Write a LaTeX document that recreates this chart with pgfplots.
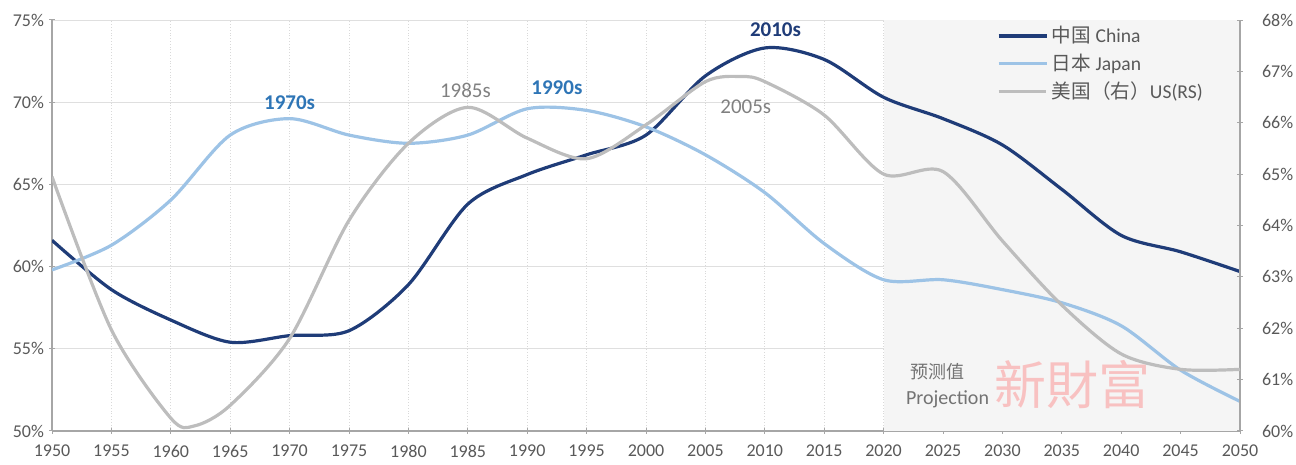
\documentclass[border=0pt]{standalone}
\usepackage{pgfplots}
\pgfplotsset{compat=1.18}
\usepackage{fontspec}
\setmainfont{Carlito}
\newfontfamily\cjk{Noto Sans CJK SC}
\definecolor{cn}{HTML}{1F3C78}
\definecolor{jp}{HTML}{9DC3E6}
\definecolor{us}{HTML}{BDBDBD}
\definecolor{lbl}{HTML}{595959}
\definecolor{ann}{HTML}{2E75B6}
\definecolor{axl}{HTML}{A6A6A6}
\begin{document}
\begin{tikzpicture}
\useasboundingbox (0,0) rectangle (648pt,232.5pt);
\pgfplotsset{
  common/.style={
    scale only axis, width=594pt, height=205.5pt,
    at={(26pt,17pt)}, anchor=south west,
    xmin=1950, xmax=2050,
    tick label style={font=\fontsize{9}{10}\selectfont, color=lbl},
    /pgf/number format/assume math mode=true,
    axis line style={color=axl, line width=0.6pt},
    major tick length=3pt, tick align=center,
    tick style={color=axl, line width=0.5pt},
  }
}
\begin{axis}[common,
  axis x line*=bottom, axis y line*=left,
  ymin=50, ymax=75, ytick={50,55,...,75},
  yticklabel={\pgfmathprintnumber{\tick}\%},
  yticklabel style={xshift=1pt},
  xtick={1950,1955,...,2050},
  xticklabel style={/pgf/number format/1000 sep={}, yshift=-2pt},
  ymajorgrids, xmajorgrids,
  y grid style={color=gray!25, line width=0.4pt},
  x grid style={color=gray!30, densely dotted, line width=0.4pt},
  legend style={at={(0.79,1.005)}, anchor=north west, draw=none, fill=none,
    font=\fontsize{9.8}{10.5}\selectfont\color{lbl}, row sep=0pt},
  legend cell align=left,
  legend image post style={xscale=1.4},
]
\fill[gray!8] (axis cs:2020,50) rectangle (axis cs:2050,75);
\addplot[cn, line width=1.6pt, smooth] coordinates {
(1950,61.6) (1955,58.6) (1960,56.75) (1965,55.4) (1970,55.8) (1975,56.1)
(1980,58.9) (1985,63.8) (1990,65.6) (1995,66.8) (2000,68.0) (2005,71.6)
(2010,73.3) (2015,72.6) (2020,70.3) (2025,69.0) (2030,67.4) (2035,64.7)
(2040,61.9) (2045,60.9) (2050,59.7)};
\addlegendentry{{\cjk 中国} China}
\addplot[jp, line width=1.6pt, smooth] coordinates {
(1950,59.8) (1955,61.3) (1960,64.05) (1965,68.0) (1970,69.0) (1975,68.0)
(1980,67.5) (1985,68.0) (1990,69.6) (1995,69.5) (2000,68.5) (2005,66.8)
(2010,64.5) (2015,61.4) (2020,59.2) (2025,59.2) (2030,58.6) (2035,57.8)
(2040,56.4) (2045,53.7) (2050,51.8)};
\addlegendentry{{\cjk 日本} Japan}
\addlegendimage{us, line width=1.6pt}
\addlegendentry{{\cjk 美国（右）}US(RS)}
\node[font=\fontsize{10.5}{11}\selectfont\bfseries, color=ann] at (axis cs:1970,69.95) {1970s};
\node[font=\fontsize{10.5}{11}\selectfont, color=gray] at (axis cs:1984.8,70.74) {1985s};
\node[font=\fontsize{10.5}{11}\selectfont\bfseries, color=ann] at (axis cs:1992.5,70.86) {1990s};
\node[font=\fontsize{10.5}{11}\selectfont\bfseries, color=cn] at (axis cs:2010.9,74.4) {2010s};
\node[font=\fontsize{10.5}{11}\selectfont, color=gray] at (axis cs:2008.4,69.7) {2005s};
\node[font=\fontsize{26}{28}\selectfont\cjk, color=red!60!pink, opacity=0.3] at (axis cs:2035.9,52.8) {新財富};
\node[font=\fontsize{9}{10}\selectfont\cjk, color=gray!90!black, anchor=west] at (axis cs:2021.7,53.6) {预测值};
\node[font=\fontsize{10}{11}\selectfont, color=gray!90!black, anchor=west] at (axis cs:2021.3,51.9) {Projection};
\end{axis}
\begin{axis}[common,
  axis x line=none, axis y line*=right,
  ymin=60, ymax=68, ytick={60,...,68},
  yticklabel={\pgfmathprintnumber{\tick}\%},
  yticklabel style={xshift=6pt},
]
\addplot[us, line width=1.6pt, smooth] coordinates {
(1950,64.95) (1955,61.97) (1960,60.25) (1962,60.1) (1965,60.5) (1970,61.8)
(1975,64.1) (1980,65.6) (1985,66.3) (1990,65.7) (1995,65.3) (2000,65.96)
(2005,66.8) (2008,66.9) (2010,66.8) (2015,66.15) (2020,65.0) (2025,65.05)
(2030,63.7) (2035,62.45) (2040,61.5) (2045,61.2) (2050,61.2)};
\end{axis}
\end{tikzpicture}
\end{document}
